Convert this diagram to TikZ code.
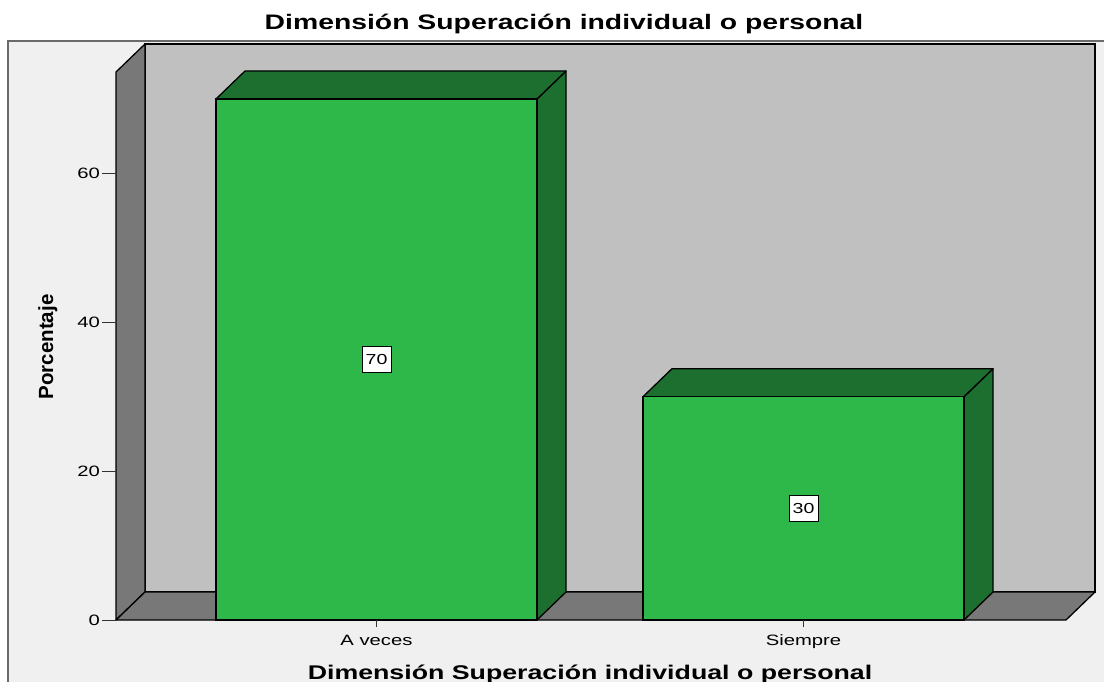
\documentclass[tikz,border=0pt]{standalone}
\usepackage{fontspec}
\setmainfont{Liberation Sans}
\newfontfamily\chartfont[FakeStretch=1.35]{Liberation Sans}
\usetikzlibrary{positioning}
\definecolor{panelgrey}{HTML}{F0F0F0}
\definecolor{framegrey}{HTML}{6A6A6A}
\definecolor{wallgrey}{HTML}{C0C0C0}
\definecolor{walldark}{HTML}{787878}
\definecolor{barlight}{HTML}{2EB84A}
\definecolor{bardark}{HTML}{1C6F2E}
\tikzstyle{wallback} = [fill=wallgrey, draw=black, line width=1.3pt]
\tikzstyle{wallside} = [fill=walldark, draw=black, line width=1.3pt, line join=round]
\tikzstyle{barfront} = [fill=barlight, draw=black, line width=1.3pt]
\tikzstyle{barshade} = [fill=bardark, draw=black, line width=1.3pt, line join=round]
\tikzstyle{valbox} = [draw=black, fill=white, line width=1pt, minimum width=29pt, minimum height=26pt, inner sep=0pt, font=\chartfont\fontsize{14.5}{14.5}\selectfont]
\tikzstyle{ticklab} = [anchor=east, inner sep=0pt, font=\chartfont\fontsize{15}{15}\selectfont]
\tikzstyle{catlab} = [anchor=base, inner sep=0pt, font=\chartfont\fontsize{15}{15}\selectfont]
\tikzstyle{titlelab} = [anchor=base, inner sep=0pt, font=\chartfont\bfseries\fontsize{21}{21}\selectfont]
\tikzstyle{tick} = [line width=1pt, black!80]

\begin{document}
\begin{tikzpicture}[x=1pt,y=-1pt]
      \useasboundingbox (0,0) rectangle (1104,682);
      \fill[white] (0,0) rectangle (1104,682);
      \fill[panelgrey] (8,41) rectangle (1104,682);
      \draw[framegrey, line width=1.5pt] (8,682) -- (8,41) -- (1104,41);

      \draw [wallback] (145,44) rectangle (1095,592);
      \draw [wallside] (116,72) -- (145,44) -- (145,592) -- (116,620) -- cycle;
      \draw [wallside] (116,620) -- (145,592) -- (1095,592) -- (1066,620) -- cycle;

      \draw [barshade] (537,99) -- (566,71) -- (566,592) -- (537,620) -- cycle;
      \draw [barshade] (216,99) -- (245,71) -- (566,71) -- (537,99) -- cycle;
      \draw [barfront] (216,620) rectangle (537,99);
      \draw [barshade] (964,396.7) -- (993,368.7) -- (993,592) -- (964,620) -- cycle;
      \draw [barshade] (643,396.7) -- (672,368.7) -- (993,368.7) -- (964,396.7) -- cycle;
      \draw [barfront] (643,620) rectangle (964,396.7);

      \node (v70) [valbox] at (376.5,359.5) {70};
      \node (v30) [valbox] at (803.5,508.4) {30};

      \foreach \v/\y in {0/620,20/471.1,40/322.3,60/173.4} {
        \draw [tick] (102,\y) -- (116,\y);
        \node (t\v) [ticklab] at (100,\y) {\v};
      }

      \draw [tick] (376.5,620) -- (376.5,627);
      \draw [tick] (803.5,620) -- (803.5,627);
      \node (c1) [catlab] at (376.5,645) {A veces};
      \node (c2) [catlab] at (803.5,645) {Siempre};

      \node (title) [titlelab] at (564,30) {Dimensión Superación individual o personal};
      \node (xlab) [titlelab, font=\chartfont\bfseries\fontsize{19.8}{19.8}\selectfont] at (590,679) {Dimensión Superación individual o personal};
      \node (ylab) [anchor=base, rotate=90, inner sep=0pt, font=\bfseries\fontsize{20.5}{20.5}\selectfont] at (53,347) {Porcentaje};
    \end{tikzpicture}
\end{document}
